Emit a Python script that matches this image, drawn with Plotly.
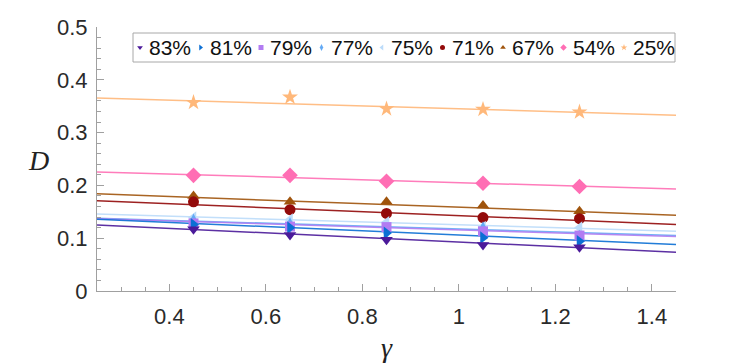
import plotly.graph_objects as go

# gamma values where D was measured
gamma = [0.45, 0.65, 0.85, 1.05, 1.25]

labels = ["83%", "81%", "79%", "77%", "75%", "71%", "67%", "54%", "25%"]

D_83 = [0.117, 0.106, 0.097, 0.087, 0.083]
D_81 = [0.126, 0.120, 0.110, 0.101, 0.094]
D_79 = [0.128, 0.122, 0.121, 0.113, 0.105]
D_77 = [0.131, 0.124, 0.113, 0.116, 0.100]
D_75 = [0.139, 0.135, 0.130, 0.121, 0.120]
D_71 = [0.169, 0.154, 0.147, 0.139, 0.137]
D_67 = [0.180, 0.169, 0.169, 0.162, 0.151]
D_54 = [0.219, 0.219, 0.208, 0.204, 0.198]
D_25 = [0.357, 0.367, 0.345, 0.344, 0.339]
points = [D_83, D_81, D_79, D_77, D_75, D_71, D_67, D_54, D_25]

# fitted lines, read at both ends of the gamma range
fit_gamma = [0.25, 1.45]
fit_start = [0.125, 0.136, 0.137, 0.138, 0.146, 0.171, 0.184, 0.2256, 0.3656]
fit_end = [0.0735, 0.088, 0.103, 0.105, 0.113, 0.126, 0.1435, 0.193, 0.333]

x_tickvals = [0.4, 0.6, 0.8, 1.0, 1.2, 1.4]
x_ticktext = ["0.4", "0.6", "0.8", "1", "1.2", "1.4"]
y_tickvals = [0, 0.1, 0.2, 0.3, 0.4, 0.5]
y_ticktext = ["0", "0.1", "0.2", "0.3", "0.4", "0.5"]

colors = ["#4b1a9a", "#0b6fd4", "#b27cf2", "#63aaf5", "#bcdcfa",
          "#930a0a", "#a0540c", "#ff6eb4", "#ffb87a"]
symbols = ["triangle-down", "triangle-right", "square", "diamond-tall", "triangle-left",
           "circle", "triangle-up", "diamond", "star"]
sizes = [11, 11, 10, 12, 11, 11, 11, 12, 12]

FONT = "Liberation Sans, Arial"
SERIF = "Liberation Serif, Times New Roman"

fig = go.Figure()

# lines first, then markers on top (drawn from 25% back to 83%)
for i in reversed(range(len(labels))):
    fig.add_trace(go.Scatter(
        x=fit_gamma, y=[fit_start[i], fit_end[i]], mode="lines",
        line=dict(color=colors[i], width=1.5), opacity=0.9,
        showlegend=False, hoverinfo="skip",
    ))
for i in reversed(range(len(labels))):
    fig.add_trace(go.Scatter(
        x=gamma, y=points[i], mode="markers", name=labels[i],
        marker=dict(color=colors[i], symbol=symbols[i], size=sizes[i]),
        showlegend=False,
    ))

# legend drawn as a compact key on an overlay axis (0..1 over the plot area)
pw, ph = 579.0, 264.0            # plot area size in px
key_pitch = 60.5 / pw
key_x0 = (140 - 97) / pw
key_y = (291 - 47.5) / ph
key_x = [key_x0 + i * key_pitch for i in range(len(labels))]
fig.add_trace(go.Scatter(
    x=key_x, y=[key_y] * len(labels), xaxis="x2", yaxis="y2", mode="markers",
    marker=dict(color=colors, symbol=symbols, size=5),
    showlegend=False, hoverinfo="skip",
))

annotations = []
for i, lab in enumerate(labels):
    annotations.append(dict(
        text=lab, x=key_x[i] + 7 / pw, y=key_y, xref="x2", yref="y2",
        xanchor="left", yanchor="middle", showarrow=False,
        font=dict(family=FONT, size=21, color="#111111"),
    ))
annotations.append(dict(
    text="<i>D</i>", x=(38 - 97) / pw, y=(291 - 160) / ph, xref="paper", yref="paper",
    xanchor="center", yanchor="middle", showarrow=False,
    font=dict(family=SERIF, size=28, color="#222222"),
))
annotations.append(dict(
    text="<i>γ</i>", x=0.5, y=(291 - 347) / ph, xref="paper", yref="paper",
    xanchor="center", yanchor="middle", showarrow=False,
    font=dict(family=SERIF, size=28, color="#222222"),
))

axis_common = dict(
    showline=True, linecolor="#a0a0a0", linewidth=1, mirror=False,
    showgrid=False, zeroline=False, automargin=False,
    ticks="inside", ticklen=7, tickcolor="#a0a0a0", tickwidth=1,
    tickfont=dict(family=FONT, size=22, color="#2a2a2a"),
)

# the page body adds an 8px offset, so the margins are shifted to compensate
fig.update_layout(
    width=747, height=363,
    margin=dict(l=89, r=79, t=19, b=80, autoexpand=False),
    paper_bgcolor="white", plot_bgcolor="white",
    font=dict(family=FONT, color="#111111"),
    showlegend=False,
    xaxis=dict(
        range=[0.25, 1.45], tickvals=x_tickvals, ticktext=x_ticktext,
        minor=dict(dtick=0.05, tick0=0, ticks="inside", ticklen=4, tickcolor="#a0a0a0"),
        ticklabelstandoff=6,
        **axis_common,
    ),
    yaxis=dict(
        range=[0, 0.5], tickvals=y_tickvals, ticktext=y_ticktext,
        minor=dict(dtick=0.02, tick0=0, ticks="inside", ticklen=4, tickcolor="#a0a0a0"),
        ticklabelstandoff=4,
        **axis_common,
    ),
    xaxis2=dict(overlaying="x", range=[0, 1], visible=False, fixedrange=True),
    yaxis2=dict(overlaying="y", range=[0, 1], visible=False, fixedrange=True),
    shapes=[dict(
        type="rect", xref="paper", yref="paper", layer="below",
        x0=(133 - 97) / pw, x1=(675 - 97) / pw, y0=(291 - 62) / ph, y1=(291 - 33) / ph,
        line=dict(color="#a8a8a8", width=1), fillcolor="white",
    )],
    annotations=annotations,
)

fig.write_html("out.html")
